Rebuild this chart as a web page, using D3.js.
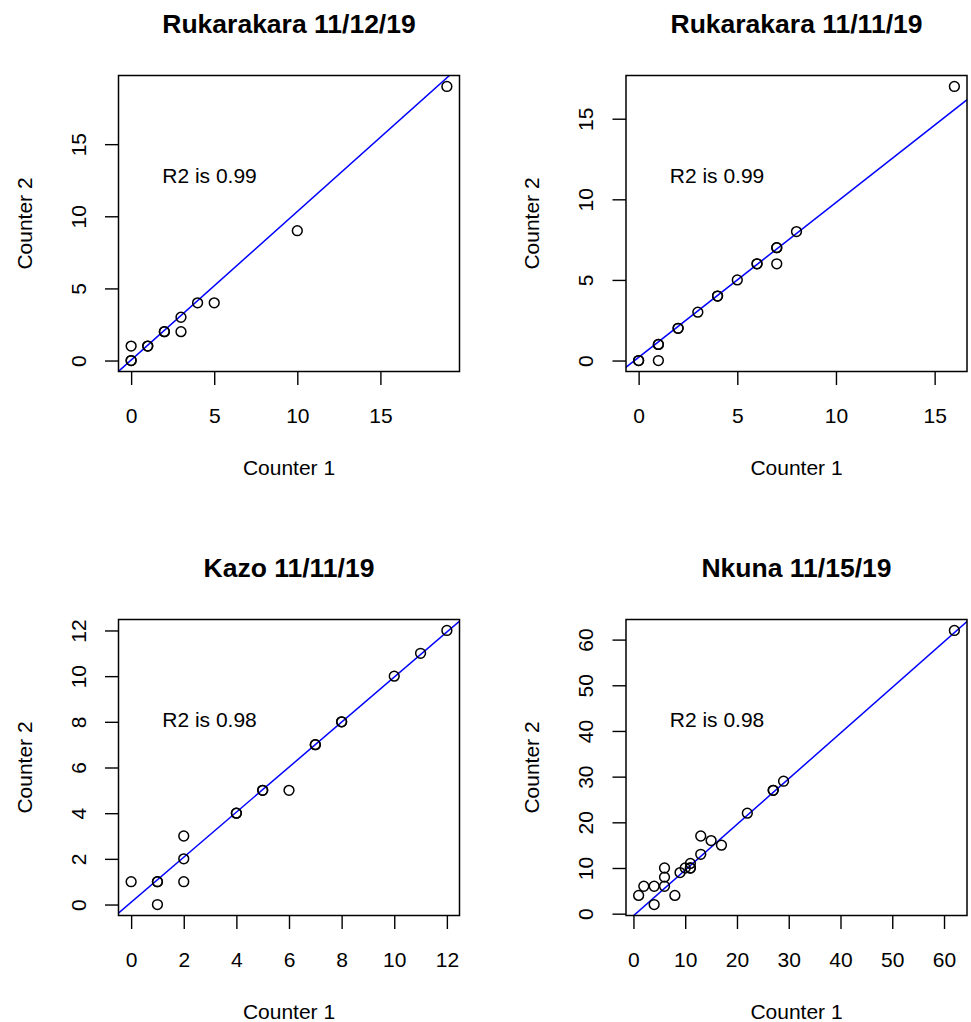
<!DOCTYPE html>
<html>
<head>
<meta charset="utf-8">
<script src="https://cdn.jsdelivr.net/npm/d3@7"></script>
<style>
  body { margin: 0; background: #fff; }
  text { font-family: "Liberation Sans", Arial, Helvetica, sans-serif; fill: #000; }
</style>
</head>
<body>
<svg></svg>
<script>
const width = 971;
const height = 1022;

// data
const titles = ["Rukarakara 11/12/19", "Rukarakara 11/11/19", "Kazo 11/11/19", "Nkuna 11/15/19"];
const r2Labels = ["R2 is 0.99", "R2 is 0.99", "R2 is 0.98", "R2 is 0.98"];

const counter1 = [
  [19, 10, 4, 5, 3, 3, 2, 2, 1, 1, 0, 0, 0],
  [16, 8, 7, 7, 7, 6, 6, 5, 4, 4, 3, 2, 2, 1, 1, 1, 0, 0],
  [12, 11, 10, 8, 8, 7, 7, 5, 5, 6, 4, 4, 2, 2, 2, 1, 1, 0, 1],
  [1, 2, 4, 6, 6, 6, 4, 8, 9, 10, 11, 11, 11, 13, 13, 15, 17, 22, 27, 27, 29, 62]
];
const counter2 = [
  [19, 9, 4, 4, 3, 2, 2, 2, 1, 1, 1, 0, 0],
  [17, 8, 7, 7, 6, 6, 6, 5, 4, 4, 3, 2, 2, 1, 1, 0, 0, 0],
  [12, 11, 10, 8, 8, 7, 7, 5, 5, 5, 4, 4, 3, 2, 1, 1, 1, 1, 0],
  [4, 6, 6, 6, 8, 10, 2, 4, 9, 10, 11, 10, 10, 13, 17, 16, 15, 22, 27, 27, 29, 62]
];

const xTicks = [[0, 5, 10, 15], [0, 5, 10, 15], [0, 2, 4, 6, 8, 10, 12], [0, 10, 20, 30, 40, 50, 60]];
const yTicks = [[0, 5, 10, 15], [0, 5, 10, 15], [0, 2, 4, 6, 8, 10, 12], [0, 10, 20, 30, 40, 50, 60]];

// fitted line (intercept, slope)
const fitIntercepts = [0.03, 0.2, 0.1, -0.46];
const fitSlopes = [1.03, 0.96, 0.986, 1.0];

// plot boxes [left, top, right, bottom]
const boxes = [
  [118.5, 75.5, 459.5, 371.5],
  [626, 75.5, 967, 371.5],
  [118.5, 619.5, 459.5, 915.5],
  [626, 619.5, 967, 915.5]
];

let svg = d3.select("svg").attr("width", width).attr("height", height);

// R style range: data extent padded 4% each side
function rRange(vals) {
  let ext = d3.extent(vals);
  let pad = (ext[1] - ext[0]) * 0.04;
  return [ext[0] - pad, ext[1] + pad];
}

titles.forEach((title, i) => {
  let [l, t, r, b] = boxes[i];
  let xScale = d3.scaleLinear().domain(rRange(counter1[i])).range([l, r]);
  let yScale = d3.scaleLinear().domain(rRange(counter2[i])).range([b, t]);
  let g = svg.append("g");
  let cx = (l + r) / 2, cy = (t + b) / 2;

  g.append("clipPath").attr("id", "clip" + i)
    .append("rect").attr("x", l).attr("y", t).attr("width", r - l).attr("height", b - t);

  // axes
  let xAxis = d3.axisBottom(xScale).tickValues(xTicks[i]).tickSize(13.5).tickPadding(0).tickFormat(d3.format("d"));
  let yAxis = d3.axisLeft(yScale).tickValues(yTicks[i]).tickSize(13.5).tickFormat(d3.format("d"));

  let gx = g.append("g").attr("transform", `translate(0,${b})`).call(xAxis);
  gx.select(".domain").remove();
  gx.selectAll("line").attr("stroke", "#000").attr("stroke-width", 1.4);
  gx.selectAll("text").attr("font-size", 21).attr("dy", null).attr("y", 51)
    .attr("font-family", "Liberation Sans, Arial, sans-serif").attr("fill", "#000");

  let gy = g.append("g").attr("transform", `translate(${l},0)`).call(yAxis);
  gy.select(".domain").remove();
  gy.selectAll("line").attr("stroke", "#000").attr("stroke-width", 1.4);
  gy.selectAll("text")
    .attr("font-size", 21).attr("font-family", "Liberation Sans, Arial, sans-serif").attr("fill", "#000")
    .attr("x", null).attr("dy", null).attr("text-anchor", "middle")
    .attr("transform", "translate(-33,0) rotate(-90)");

  // fit line
  let xd = xScale.domain();
  g.append("line")
    .attr("clip-path", `url(#clip${i})`)
    .attr("x1", xScale(xd[0] - 5)).attr("y1", yScale(fitIntercepts[i] + fitSlopes[i] * (xd[0] - 5)))
    .attr("x2", xScale(xd[1] + 5)).attr("y2", yScale(fitIntercepts[i] + fitSlopes[i] * (xd[1] + 5)))
    .attr("stroke", "#0000ff").attr("stroke-width", 1.5);

  // points
  g.selectAll("circle")
    .data(counter1[i].map((v, k) => [v, counter2[i][k]]))
    .enter()
    .append("circle")
    .attr("cx", d => xScale(d[0]))
    .attr("cy", d => yScale(d[1]))
    .attr("r", 4.9)
    .attr("fill", "none")
    .attr("stroke", "#000")
    .attr("stroke-width", 1.5);

  // box
  g.append("rect").attr("x", l).attr("y", t).attr("width", r - l).attr("height", b - t)
    .attr("fill", "none").attr("stroke", "#000").attr("stroke-width", 1.5);

  // texts
  g.append("text").attr("x", cx).attr("y", t - 43).attr("text-anchor", "middle")
    .attr("font-size", 26.5).attr("font-weight", "bold").text(title);
  g.append("text").attr("x", cx).attr("y", b + 103).attr("text-anchor", "middle")
    .attr("font-size", 21).text("Counter 1");
  g.append("text").attr("transform", `translate(${l - 87},${cy}) rotate(-90)`).attr("text-anchor", "middle")
    .attr("font-size", 21).text("Counter 2");
  g.append("text").attr("x", l + 91).attr("y", t + 107).attr("text-anchor", "middle")
    .attr("font-size", 21).text(r2Labels[i]);
});
</script>
</body>
</html>
